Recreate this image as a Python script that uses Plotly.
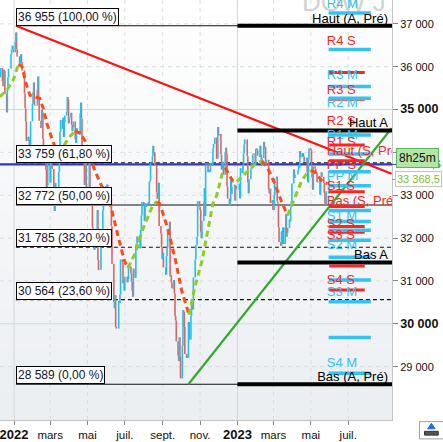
import plotly.graph_objects as go
import pandas as pd

# ---------------- DATA ----------------
holidays = ["2021-12-24", "2022-01-17", "2022-02-21", "2022-04-15", "2022-05-30", "2022-06-20",
            "2022-07-04", "2022-09-05", "2022-11-24", "2022-12-26", "2023-01-02", "2023-01-16",
            "2023-02-20", "2023-04-07", "2023-05-29"]

close_2021_12 = [35754, 35971, 35651, 35545, 35927, 35898, 35365, 34932, 35493, 35754, 35951, 36302, 36398, 36488, 36398, 36338]
close_2022_01 = [36585, 36800, 36408, 36236, 36231, 36068, 36252, 36290, 36114, 35912, 35369, 35029, 34715, 34265, 34365, 34298, 34168, 34160, 34725, 35132]
close_2022_02 = [35405, 35630, 35111, 35090, 35091, 35463, 35768, 35242, 34738, 34567, 34989, 34935, 34312, 34079, 33597, 33132, 33224, 34059, 33893]
close_2022_03 = [33295, 33891, 33795, 33615, 32818, 32633, 33286, 33174, 32944, 32945, 33545, 34064, 34481, 34755, 34553, 34808, 34359, 34708, 34862, 34956, 35295, 35229, 34678]
close_2022_04 = [34819, 34922, 34642, 34497, 34584, 34721, 34309, 34221, 34565, 34451, 34412, 34912, 35161, 34793, 33811, 34049, 33240, 33302, 34052, 32977]
close_2022_05 = [33062, 33129, 34061, 32998, 32900, 32246, 32161, 31834, 31730, 32197, 32223, 32655, 31490, 31253, 31262, 31880, 31929, 32120, 32637, 33213, 32990]
close_2022_06 = [32813, 33248, 32900, 32916, 33180, 32910, 32273, 31393, 30517, 30365, 30669, 29927, 29889, 30530, 30484, 30677, 31501, 31439, 30947, 31029, 30775]
close_2022_07 = [31097, 30968, 31037, 31385, 31338, 31174, 30982, 30773, 30630, 31289, 31073, 31827, 31875, 32037, 31899, 31990, 31762, 32198, 32530, 32845]
close_2022_08 = [32798, 32397, 32813, 32727, 32803, 32833, 32775, 33310, 33337, 33761, 33913, 34152, 33981, 33999, 33707, 33064, 32910, 32970, 33292, 32283, 32099, 31791, 31510]
close_2022_09 = [31657, 31318, 31146, 31581, 31775, 32152, 32381, 31105, 31135, 30962, 30822, 31020, 30706, 30184, 30077, 29590, 29261, 29135, 29684, 29226, 28726]
close_2022_10 = [29490, 30317, 30274, 29927, 29297, 29203, 29240, 29211, 30039, 29635, 30186, 30524, 30424, 30334, 31083, 31500, 31837, 31839, 32034, 32861, 32733]
close_2022_11 = [32653, 32148, 31999, 32403, 32827, 33161, 32514, 33716, 33748, 33537, 33593, 33554, 33547, 33746, 33700, 34098, 34195, 34347, 33850, 33853, 34590]
close_2022_12 = [34395, 34430, 33948, 33597, 33598, 33781, 33477, 34006, 34109, 33966, 33203, 32920, 32758, 32850, 33377, 33027, 33204, 33242, 32876, 33221, 33147]
close_2023_01 = [33136, 33270, 32930, 33631, 33518, 33705, 33974, 34190, 34303, 33911, 33297, 33045, 33375, 33630, 33734, 33744, 33949, 33978, 33717, 34086]
close_2023_02 = [34093, 34054, 33926, 33891, 34156, 33949, 33699, 33869, 34246, 34089, 34128, 33697, 33827, 33130, 33045, 33154, 32817, 32889, 32657]
close_2023_03 = [32662, 33004, 33391, 33432, 32856, 32799, 32254, 31910, 31819, 32155, 31875, 32247, 31862, 32245, 32561, 32030, 32106, 32238, 32433, 32395, 32718, 32860, 33274]
close_2023_04 = [33601, 33403, 33483, 33485, 33587, 33685, 33647, 34030, 33886, 33987, 33977, 33897, 33786, 33809, 33876, 33531, 33302, 33827, 34098]
close_2023_05 = [34051, 33684, 33414, 33128, 33674, 33619, 33562, 33531, 33309, 33301, 33349, 33012, 33421, 33536, 33427, 33286, 33056, 32800, 32765, 33093, 33043, 33368.5]

month_starts = ["2021-12-09", "2022-01-01", "2022-02-01", "2022-03-01", "2022-04-01", "2022-05-01",
                "2022-06-01", "2022-07-01", "2022-08-01", "2022-09-01", "2022-10-01", "2022-11-01",
                "2022-12-01", "2023-01-01", "2023-02-01", "2023-03-01", "2023-04-01", "2023-05-01"]
closes_by_month = [close_2021_12, close_2022_01, close_2022_02, close_2022_03, close_2022_04, close_2022_05,
                   close_2022_06, close_2022_07, close_2022_08, close_2022_09, close_2022_10, close_2022_11,
                   close_2022_12, close_2023_01, close_2023_02, close_2023_03, close_2023_04, close_2023_05]

# colored moving average
ma_dates = ["2021-12-09", "2021-12-21", "2021-12-31", "2022-01-08", "2022-01-14", "2022-01-20", "2022-01-27",
            "2022-02-06", "2022-02-12", "2022-02-17", "2022-02-24", "2022-03-04", "2022-03-12", "2022-03-20",
            "2022-03-30", "2022-04-10", "2022-04-19", "2022-04-27", "2022-05-13", "2022-05-26", "2022-06-07",
            "2022-06-20", "2022-06-30", "2022-07-06", "2022-07-18", "2022-07-29", "2022-08-08", "2022-08-16",
            "2022-08-23", "2022-08-27", "2022-09-09", "2022-09-21", "2022-10-02", "2022-10-14", "2022-10-23",
            "2022-11-04", "2022-11-14", "2022-11-22", "2022-11-28", "2022-12-08", "2022-12-12", "2022-12-18",
            "2022-12-24", "2022-12-31", "2023-01-13", "2023-01-29", "2023-02-10", "2023-02-20", "2023-03-03",
            "2023-03-14", "2023-03-24", "2023-04-08", "2023-04-16", "2023-04-24", "2023-05-01", "2023-05-07",
            "2023-05-20", "2023-05-28"]
ma_values = [35300, 35471, 35702, 36050, 36004, 35633, 35332, 35285, 35262, 35054, 34660, 34312, 34011, 34080,
             34312, 34497, 34451, 34266, 33571, 33154, 32806, 32042, 31486, 31300, 31648, 32157, 32528, 32783,
             32853, 32806, 32227, 31532, 30767, 30212, 30837, 31462, 32227, 32806, 32991, 33550, 33640, 33500,
             33339, 33316, 33501, 33710, 33803, 33617, 33270, 32853, 32528, 33084, 33339, 33501, 33571, 33548,
             33316, 33270]

# Fibonacci retracement
fib_start = "2022-01-04"
fib_levels = [36955, 33759, 32772, 31785, 30564, 28589]
fib_pcts = ["100,00 %", "61,80 %", "50,00 %", "38,20 %", "23,60 %", "0,00 %"]

# annual highs / lows
annual_start = "2023-01-01"
annual_names = ["Haut (A, Pré)", "Haut A", "Bas A", "Bas (A, Pré)"]
annual_levels = [36955, 34510, 31433, 28589]

# trend lines (two points each)
red_trend_dates = ["2022-01-04", "2023-09-10"]
red_trend_values = [36955, 33501]
green_trend_dates = ["2022-10-13", "2023-09-10"]
green_trend_values = [28589, 34567]

# horizontal lines / last values
blue_level = 33720.6
last_price = 33368.5
countdown = "8h25m"

# pivot points (monthly = cyan, weekly = red)
pivot_m_levels = [37255, 36398, 35540, 35262, 34405, 33965, 33548, 33223, 32644, 32389, 32181, 31949,
                  31555, 31022, 30512, 29678, 28844]
pivot_s_levels = [35865, 35239, 34173, 33803, 33084, 32737, 32273, 32134, 31346, 30790]
pivot_m_span = ["2023-05-30", "2023-08-07"]
pivot_s_span = ["2023-05-31", "2023-07-28"]
pivot_labels = ["R4 M", "R4 S", "R3 M", "R3 S", "R2 M", "R2 S", "R1 M", "R1 S", "Haut (S, Pré)", "PP S",
                "PP M", "S1 S", "Bas (S, Pré)", "S1 M", "S2 S", "S3 S", "S2 M", "S4 S", "S3 M", "S4 M"]
pivot_label_values = [37440, 36583, 35795, 35448, 35146, 34706, 34382, 34220, 34011, 33687,
                      33432, 33200, 32853, 32505, 32320, 32065, 31810, 30999, 30721, 29076]

x_tick_dates = ["2022-01-01", "2022-03-01", "2022-05-01", "2022-07-01", "2022-09-01", "2022-11-01",
                "2023-01-01", "2023-03-01", "2023-05-01", "2023-07-01"]
x_tick_text = ["2022", "mars", "mai", "juil.", "sept.", "nov.", "2023", "mars", "mai", "juil."]
y_tick_values = [29000, 30000, 31000, 32000, 33000, 34000, 35000, 36000, 37000]

# ---------------- STYLE ----------------
FONT = "Liberation Sans, Arial, sans-serif"
X_RANGE = ["2021-12-09", "2023-09-10 14:00"]
Y_RANGE = [27755, 37556]
X_END = "2023-09-14"
CYAN = "#33c2f2"
RED = "#ff2424"
UP_COL = "#1cc3f0"
DN_COL = "#e06363"

# build trading dates
hol = set(pd.to_datetime(holidays))
dates, closes = [], []
for start, vals in zip(month_starts, closes_by_month):
    s = pd.Timestamp(start)
    e = s + pd.offsets.MonthEnd(0)
    days = [d for d in pd.bdate_range(s, e) if d not in hol]
    for d, v in zip(days, vals):
        dates.append(d.strftime("%Y-%m-%d"))
        closes.append(v)

fig = go.Figure()

# watermark
fig.add_trace(go.Scatter(x=["2023-06-24"], y=[37440], mode="text", text=["DOW J"],
                         textfont=dict(size=26, color="#d2d2d2", family=FONT),
                         hoverinfo="skip", cliponaxis=True))

# blue horizontal line
fig.add_trace(go.Scatter(x=[X_RANGE[0], X_END], y=[blue_level, blue_level], mode="lines",
                         line=dict(color="#3434c8", width=2.2), hoverinfo="skip"))

# fib lines
fib_dash = ["solid", "4px,3px", "solid", "4px,3px", "4px,3px", "solid"]
for lv, ds in zip(fib_levels, fib_dash):
    fig.add_trace(go.Scatter(x=[fib_start, X_END], y=[lv, lv], mode="lines",
                             line=dict(color="#111111", width=1.1, dash=ds), hoverinfo="skip"))

# bars (prev close -> close)
ux, uy, dx, dy = [], [], [], []
for i in range(1, len(closes)):
    o, c = closes[i - 1], closes[i]
    if c >= o:
        ux += [dates[i], dates[i], None]; uy += [o, c, None]
    else:
        dx += [dates[i], dates[i], None]; dy += [o, c, None]
fig.add_trace(go.Scatter(x=dx, y=dy, mode="lines", line=dict(color=DN_COL, width=1.6), hoverinfo="skip"))
fig.add_trace(go.Scatter(x=ux, y=uy, mode="lines", line=dict(color=UP_COL, width=1.6), hoverinfo="skip"))

# colored moving average
runs = []
cur = [0]
cur_up = ma_values[1] >= ma_values[0]
for i in range(1, len(ma_values)):
    up = ma_values[i] >= ma_values[i - 1]
    if up == cur_up:
        cur.append(i)
    else:
        runs.append((cur, cur_up))
        cur = [i - 1, i]
        cur_up = up
runs.append((cur, cur_up))
for idx, up in runs:
    fig.add_trace(go.Scatter(x=[ma_dates[k] for k in idx], y=[ma_values[k] for k in idx], mode="lines",
                             line=dict(color="#8ccf24" if up else "#ff4a1c", width=3, dash="6px,4px"),
                             hoverinfo="skip"))

# trend lines
fig.add_trace(go.Scatter(x=red_trend_dates, y=red_trend_values, mode="lines",
                         line=dict(color="#ff1010", width=2.2), hoverinfo="skip"))
fig.add_trace(go.Scatter(x=green_trend_dates, y=green_trend_values, mode="lines",
                         line=dict(color="#33aa2e", width=2.2), hoverinfo="skip"))

# annual thick lines
for lv in annual_levels:
    fig.add_trace(go.Scatter(x=[annual_start, X_END], y=[lv, lv], mode="lines",
                             line=dict(color="#000000", width=4), hoverinfo="skip"))

# pivot segments
sx, sy = [], []
for lv in pivot_s_levels:
    sx += [pivot_s_span[0], pivot_s_span[1], None]; sy += [lv, lv, None]
fig.add_trace(go.Scatter(x=sx, y=sy, mode="lines", line=dict(color=RED, width=3), hoverinfo="skip"))
mx, my = [], []
for lv in pivot_m_levels:
    mx += [pivot_m_span[0], pivot_m_span[1], None]; my += [lv, lv, None]
fig.add_trace(go.Scatter(x=mx, y=my, mode="lines", line=dict(color=CYAN, width=3.5), hoverinfo="skip"))

# pivot labels
lab_cols = [CYAN if lb.endswith(" M") else RED for lb in pivot_labels]
fig.add_trace(go.Scatter(x=["2023-05-27"] * len(pivot_labels), y=pivot_label_values, mode="text",
                         text=pivot_labels, textposition="middle right",
                         textfont=dict(size=13, color=lab_cols, family=FONT),
                         hoverinfo="skip", cliponaxis=True))

# annual labels
fig.add_trace(go.Scatter(x=["2023-09-04"] * len(annual_names), y=annual_levels, mode="text",
                         text=annual_names, textposition="top left",
                         textfont=dict(size=13, color="#000000", family=FONT),
                         hoverinfo="skip", cliponaxis=True))

# ---------------- SHAPES (background / grid) ----------------
shapes = []
NB = 30
for i in range(NB):
    t = i / (NB - 1)
    r = int(236 + (255 - 236) * t); g = int(239 + (255 - 239) * t); b = int(242 + (255 - 242) * t)
    shapes.append(dict(type="rect", xref="x domain", yref="y domain", x0=0, x1=1,
                       y0=i / NB, y1=(i + 1) / NB, fillcolor=f"rgb({r},{g},{b})",
                       line=dict(width=0), layer="below"))
for v in y_tick_values:
    major = v % 5000 == 0
    shapes.append(dict(type="line", xref="x domain", yref="y", x0=0, x1=1, y0=v, y1=v,
                       line=dict(color="#d6d6d6" if major else "#dddddd", width=1,
                                 dash="solid" if major else "4px,4px"), layer="below"))
for d, t in zip(x_tick_dates, x_tick_text):
    year = t.isdigit()
    shapes.append(dict(type="line", xref="x", yref="y domain", x0=d, x1=d, y0=0, y1=1,
                       line=dict(color="#d6d6d6" if year else "#dddddd", width=1,
                                 dash="solid" if year else "4px,4px"), layer="below"))
# small colored ticks on right axis
shapes.append(dict(type="line", xref="paper", yref="y", x0=1, x1=1.011, y0=blue_level, y1=blue_level,
                   line=dict(color="#3434c8", width=1)))
shapes.append(dict(type="line", xref="paper", yref="y", x0=1, x1=1.011, y0=last_price, y1=last_price,
                   line=dict(color="#7dc22b", width=1)))
# corner icon
shapes.append(dict(type="rect", xref="paper", yref="paper", x0=1.07, x1=1.135, y0=-0.045, y1=-0.004,
                   line=dict(color="#a0a0a0", width=1), fillcolor="#ffffff"))
shapes.append(dict(type="rect", xref="paper", yref="paper", x0=1.083, x1=1.118, y0=-0.036, y1=-0.027,
                   line=dict(color="#333333", width=1), fillcolor="#555555"))
shapes.append(dict(type="path", xref="paper", yref="paper",
                   path="M 1.091,-0.021 L 1.1005,-0.008 L 1.110,-0.021 Z",
                   line=dict(color="#1e6fd9", width=1), fillcolor="#1e6fd9"))

# ---------------- ANNOTATIONS ----------------
annotations = []
for lv, pc in zip(fib_levels, fib_pcts):
    txt = f"{lv:,}".replace(",", " ") + f" ({pc})"
    annotations.append(dict(x=fib_start, y=lv, xref="x", yref="y", text=txt, showarrow=False,
                            xanchor="left", yanchor="bottom", bgcolor="#ffffff", bordercolor="#000000",
                            borderwidth=1, borderpad=1, font=dict(size=12, color="#14142e", family=FONT)))
annotations.append(dict(x=1, y=blue_level, xref="paper", yref="y",
                        text=f"{blue_level:,.1f}".replace(",", " ").replace(".", ","),
                        showarrow=False, xanchor="left", xshift=4,
                        font=dict(size=11, color="#3a3ad0", family=FONT)))
annotations.append(dict(x=1, y=33860, xref="paper", yref="y", text=countdown, showarrow=False,
                        xanchor="left", xshift=4, bgcolor="#b3e6a6", bordercolor="#5cb85c", borderwidth=1,
                        borderpad=2, font=dict(size=12, color="#111111", family=FONT)))
annotations.append(dict(x=1, y=last_price, xref="paper", yref="y",
                        text=f"{last_price:,.1f}".replace(",", " ").replace(".", ","),
                        showarrow=False, xanchor="left", xshift=3, bgcolor="#ffffff", bordercolor="#c4c4c4",
                        borderwidth=1, borderpad=1, font=dict(size=11, color="#7dc22b", family=FONT)))

def ytxt(v):
    s = f"{v:,}".replace(",", " ")
    return f'<span style="font-size:12.5px"><b>{s}</b></span>' if v % 5000 == 0 else s

def xtxt(t):
    return f'<span style="font-size:13px"><b>{t}</b></span>' if t.isdigit() else t

fig.update_layout(
    width=443, height=442,
    margin=dict(l=0, r=51, t=0, b=19),
    paper_bgcolor="#ffffff", plot_bgcolor="#ffffff",
    showlegend=False,
    font=dict(family=FONT, size=11, color="#111111"),
    shapes=shapes, annotations=annotations,
    xaxis=dict(type="date", range=X_RANGE, showgrid=False, zeroline=False,
               tickmode="array", tickvals=x_tick_dates, ticktext=[xtxt(t) for t in x_tick_text],
               ticks="outside", ticklen=4, tickcolor="#888888", ticklabeloverflow="allow",
               showline=True, linecolor="#c4c4c4", linewidth=1,
               tickfont=dict(size=11.5, color="#111111")),
    yaxis=dict(side="right", range=Y_RANGE, showgrid=False, zeroline=False,
               tickmode="array", tickvals=y_tick_values, ticktext=[ytxt(v) for v in y_tick_values],
               ticks="outside", ticklen=5, tickcolor="#888888", ticklabeloverflow="allow",
               showline=True, linecolor="#c4c4c4", linewidth=1,
               tickfont=dict(size=11, color="#111111")),
)

fig.write_html("out.html", config={"displayModeBar": False},
               post_script="document.body.style.margin='0';document.body.style.overflow='hidden';")
